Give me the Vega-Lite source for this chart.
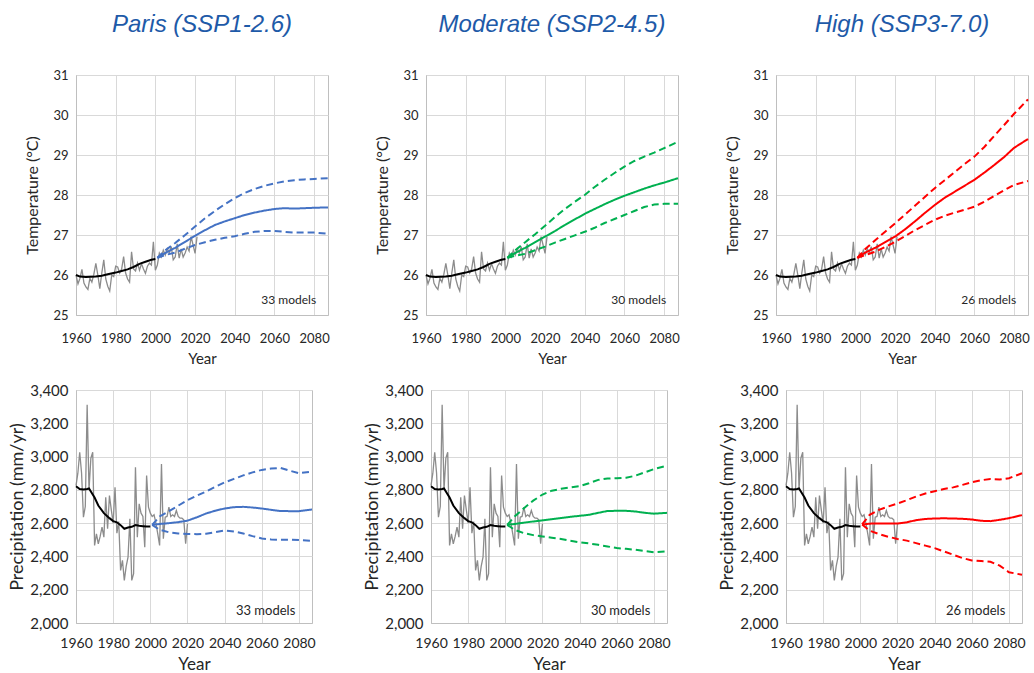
{
"$schema": "https://vega.github.io/schema/vega-lite/v6.json",
"background": "white",
"padding": {"left": 8, "top": 12, "right": 0, "bottom": 0},
"datasets": {
"obs": [
{"year":1960,"t":26.00,"p":2826},{"year":1961,"t":25.78,"p":2900},{"year":1962,"t":25.92,"p":3026},{"year":1963,"t":26.14,"p":2900},{"year":1964,"t":25.80,"p":2636},{"year":1965,"t":25.70,"p":2700},{"year":1966,"t":25.64,"p":3312},{"year":1967,"t":25.92,"p":2800},{"year":1968,"t":25.82,"p":2990},{"year":1969,"t":26.02,"p":3026},
{"year":1970,"t":26.29,"p":2466},{"year":1971,"t":26.00,"p":2536},{"year":1972,"t":25.66,"p":2476},{"year":1973,"t":26.05,"p":2520},{"year":1974,"t":26.38,"p":2576},{"year":1975,"t":25.90,"p":2516},{"year":1976,"t":25.72,"p":2756},{"year":1977,"t":25.60,"p":2566},{"year":1978,"t":26.00,"p":2766},{"year":1979,"t":25.96,"p":2680},
{"year":1980,"t":26.22,"p":2600},{"year":1981,"t":26.20,"p":2816},{"year":1982,"t":26.05,"p":2540},{"year":1983,"t":26.15,"p":2610},{"year":1984,"t":26.46,"p":2316},{"year":1985,"t":26.05,"p":2376},{"year":1986,"t":25.90,"p":2256},{"year":1987,"t":25.82,"p":2340},{"year":1988,"t":26.58,"p":2396},{"year":1989,"t":26.15,"p":2626},
{"year":1990,"t":26.10,"p":2256},{"year":1991,"t":26.30,"p":2296},{"year":1992,"t":26.12,"p":2936},{"year":1993,"t":26.28,"p":2516},{"year":1994,"t":26.15,"p":2716},{"year":1995,"t":26.04,"p":2660},{"year":1996,"t":26.22,"p":2640},{"year":1997,"t":26.30,"p":2456},{"year":1998,"t":26.25,"p":2886},{"year":1999,"t":26.83,"p":2696},
{"year":2000,"t":26.12,"p":2660},{"year":2001,"t":26.25,"p":2640},{"year":2002,"t":26.55,"p":2650},{"year":2003,"t":26.45,"p":2600},{"year":2004,"t":26.62,"p":2536},{"year":2005,"t":26.50,"p":2466},{"year":2006,"t":26.66,"p":2956},{"year":2007,"t":26.55,"p":2506},{"year":2008,"t":26.71,"p":2636},{"year":2009,"t":26.38,"p":2640},
{"year":2010,"t":26.45,"p":2696},{"year":2011,"t":26.78,"p":2640},{"year":2012,"t":26.42,"p":2650},{"year":2013,"t":26.65,"p":2640},{"year":2014,"t":26.45,"p":2676},{"year":2015,"t":26.55,"p":2640},{"year":2016,"t":26.70,"p":2630},{"year":2017,"t":26.60,"p":2630},{"year":2018,"t":26.96,"p":2620},{"year":2019,"t":26.75,"p":2476},
{"year":2020,"t":26.54,"p":2596},{"year":2021,"t":26.96,"p":null}
],
"tsmooth": [
{"year":1960,"t":26.00},{"year":1962,"t":25.96},{"year":1965,"t":25.95},{"year":1970,"t":25.96},{"year":1973,"t":25.98},{"year":1976,"t":26.02},{"year":1980,"t":26.06},{"year":1983,"t":26.10},{"year":1986,"t":26.14},{"year":1989,"t":26.20},{"year":1992,"t":26.28},{"year":1995,"t":26.33},{"year":1998,"t":26.38},{"year":2000,"t":26.40}
],
"psmooth": [
{"year":1960,"p":2822},{"year":1962,"p":2805},{"year":1964,"p":2802},{"year":1966,"p":2805},{"year":1967,"p":2808},{"year":1968,"p":2790},{"year":1970,"p":2754},{"year":1972,"p":2706},{"year":1975,"p":2660},{"year":1978,"p":2630},{"year":1980,"p":2612},{"year":1982,"p":2605},{"year":1984,"p":2588},{"year":1986,"p":2566},{"year":1988,"p":2574},{"year":1990,"p":2578},{"year":1992,"p":2588},{"year":1994,"p":2584},{"year":1996,"p":2582},{"year":1998,"p":2580},{"year":2000,"p":2580}
],
"proj": [
{"scenario":"Paris","year":2001,"t_mean":26.43,"t_upper":26.43,"t_lower":26.43,"p_mean":2590,"p_upper":2590,"p_lower":2590},
{"scenario":"Paris","year":2005,"t_mean":26.55,"t_upper":26.62,"t_lower":26.50,"p_mean":2595,"p_upper":2640,"p_lower":2560},
{"scenario":"Paris","year":2010,"t_mean":26.68,"t_upper":26.80,"t_lower":26.56,"p_mean":2600,"p_upper":2672,"p_lower":2545},
{"scenario":"Paris","year":2015,"t_mean":26.83,"t_upper":27.00,"t_lower":26.66,"p_mean":2606,"p_upper":2705,"p_lower":2538},
{"scenario":"Paris","year":2020,"t_mean":26.98,"t_upper":27.21,"t_lower":26.75,"p_mean":2615,"p_upper":2738,"p_lower":2535},
{"scenario":"Paris","year":2025,"t_mean":27.12,"t_upper":27.42,"t_lower":26.82,"p_mean":2635,"p_upper":2765,"p_lower":2534},
{"scenario":"Paris","year":2030,"t_mean":27.25,"t_upper":27.60,"t_lower":26.88,"p_mean":2658,"p_upper":2790,"p_lower":2536},
{"scenario":"Paris","year":2035,"t_mean":27.34,"t_upper":27.77,"t_lower":26.93,"p_mean":2675,"p_upper":2818,"p_lower":2546},
{"scenario":"Paris","year":2040,"t_mean":27.42,"t_upper":27.92,"t_lower":26.97,"p_mean":2688,"p_upper":2845,"p_lower":2556},
{"scenario":"Paris","year":2045,"t_mean":27.50,"t_upper":28.05,"t_lower":27.03,"p_mean":2696,"p_upper":2866,"p_lower":2550},
{"scenario":"Paris","year":2050,"t_mean":27.56,"t_upper":28.15,"t_lower":27.08,"p_mean":2698,"p_upper":2887,"p_lower":2538},
{"scenario":"Paris","year":2055,"t_mean":27.61,"t_upper":28.23,"t_lower":27.10,"p_mean":2694,"p_upper":2905,"p_lower":2522},
{"scenario":"Paris","year":2060,"t_mean":27.65,"t_upper":28.29,"t_lower":27.10,"p_mean":2688,"p_upper":2920,"p_lower":2508},
{"scenario":"Paris","year":2065,"t_mean":27.67,"t_upper":28.34,"t_lower":27.08,"p_mean":2680,"p_upper":2928,"p_lower":2502},
{"scenario":"Paris","year":2070,"t_mean":27.66,"t_upper":28.37,"t_lower":27.06,"p_mean":2673,"p_upper":2932,"p_lower":2500},
{"scenario":"Paris","year":2075,"t_mean":27.67,"t_upper":28.39,"t_lower":27.06,"p_mean":2672,"p_upper":2915,"p_lower":2500},
{"scenario":"Paris","year":2080,"t_mean":27.68,"t_upper":28.40,"t_lower":27.06,"p_mean":2672,"p_upper":2900,"p_lower":2498},
{"scenario":"Paris","year":2087,"t_mean":27.69,"t_upper":28.42,"t_lower":27.03,"p_mean":2682,"p_upper":2910,"p_lower":2494},
{"scenario":"Moderate","year":2001,"t_mean":26.43,"t_upper":26.43,"t_lower":26.43,"p_mean":2590,"p_upper":2590,"p_lower":2590},
{"scenario":"Moderate","year":2005,"t_mean":26.55,"t_upper":26.62,"t_lower":26.48,"p_mean":2595,"p_upper":2640,"p_lower":2560},
{"scenario":"Moderate","year":2010,"t_mean":26.68,"t_upper":26.82,"t_lower":26.53,"p_mean":2603,"p_upper":2690,"p_lower":2540},
{"scenario":"Moderate","year":2015,"t_mean":26.82,"t_upper":27.02,"t_lower":26.62,"p_mean":2610,"p_upper":2735,"p_lower":2528},
{"scenario":"Moderate","year":2020,"t_mean":26.96,"t_upper":27.23,"t_lower":26.71,"p_mean":2617,"p_upper":2772,"p_lower":2520},
{"scenario":"Moderate","year":2025,"t_mean":27.10,"t_upper":27.45,"t_lower":26.81,"p_mean":2624,"p_upper":2795,"p_lower":2512},
{"scenario":"Moderate","year":2030,"t_mean":27.25,"t_upper":27.65,"t_lower":26.90,"p_mean":2631,"p_upper":2806,"p_lower":2505},
{"scenario":"Moderate","year":2035,"t_mean":27.39,"t_upper":27.83,"t_lower":26.99,"p_mean":2638,"p_upper":2815,"p_lower":2494},
{"scenario":"Moderate","year":2040,"t_mean":27.53,"t_upper":28.00,"t_lower":27.08,"p_mean":2644,"p_upper":2822,"p_lower":2485},
{"scenario":"Moderate","year":2045,"t_mean":27.65,"t_upper":28.20,"t_lower":27.18,"p_mean":2650,"p_upper":2840,"p_lower":2478},
{"scenario":"Moderate","year":2050,"t_mean":27.77,"t_upper":28.38,"t_lower":27.30,"p_mean":2662,"p_upper":2860,"p_lower":2470},
{"scenario":"Moderate","year":2055,"t_mean":27.88,"t_upper":28.55,"t_lower":27.40,"p_mean":2673,"p_upper":2868,"p_lower":2460},
{"scenario":"Moderate","year":2060,"t_mean":27.98,"t_upper":28.71,"t_lower":27.50,"p_mean":2674,"p_upper":2870,"p_lower":2450},
{"scenario":"Moderate","year":2065,"t_mean":28.07,"t_upper":28.85,"t_lower":27.60,"p_mean":2674,"p_upper":2873,"p_lower":2446},
{"scenario":"Moderate","year":2070,"t_mean":28.16,"t_upper":28.96,"t_lower":27.70,"p_mean":2670,"p_upper":2885,"p_lower":2440},
{"scenario":"Moderate","year":2075,"t_mean":28.24,"t_upper":29.06,"t_lower":27.76,"p_mean":2662,"p_upper":2905,"p_lower":2432},
{"scenario":"Moderate","year":2080,"t_mean":28.31,"t_upper":29.17,"t_lower":27.78,"p_mean":2657,"p_upper":2925,"p_lower":2425},
{"scenario":"Moderate","year":2087,"t_mean":28.42,"t_upper":29.33,"t_lower":27.78,"p_mean":2662,"p_upper":2945,"p_lower":2430},
{"scenario":"High","year":2001,"t_mean":26.43,"t_upper":26.43,"t_lower":26.43,"p_mean":2592,"p_upper":2592,"p_lower":2592},
{"scenario":"High","year":2005,"t_mean":26.56,"t_upper":26.65,"t_lower":26.50,"p_mean":2597,"p_upper":2650,"p_lower":2555},
{"scenario":"High","year":2010,"t_mean":26.68,"t_upper":26.87,"t_lower":26.58,"p_mean":2598,"p_upper":2680,"p_lower":2535},
{"scenario":"High","year":2015,"t_mean":26.82,"t_upper":27.08,"t_lower":26.70,"p_mean":2598,"p_upper":2700,"p_lower":2518},
{"scenario":"High","year":2020,"t_mean":26.96,"t_upper":27.29,"t_lower":26.83,"p_mean":2598,"p_upper":2718,"p_lower":2505},
{"scenario":"High","year":2025,"t_mean":27.14,"t_upper":27.51,"t_lower":26.97,"p_mean":2605,"p_upper":2738,"p_lower":2495},
{"scenario":"High","year":2030,"t_mean":27.34,"t_upper":27.73,"t_lower":27.12,"p_mean":2618,"p_upper":2760,"p_lower":2480},
{"scenario":"High","year":2035,"t_mean":27.55,"t_upper":27.95,"t_lower":27.25,"p_mean":2625,"p_upper":2778,"p_lower":2465},
{"scenario":"High","year":2040,"t_mean":27.75,"t_upper":28.17,"t_lower":27.38,"p_mean":2628,"p_upper":2792,"p_lower":2450},
{"scenario":"High","year":2045,"t_mean":27.93,"t_upper":28.37,"t_lower":27.48,"p_mean":2629,"p_upper":2805,"p_lower":2430},
{"scenario":"High","year":2050,"t_mean":28.08,"t_upper":28.57,"t_lower":27.56,"p_mean":2628,"p_upper":2815,"p_lower":2410},
{"scenario":"High","year":2055,"t_mean":28.23,"t_upper":28.77,"t_lower":27.63,"p_mean":2626,"p_upper":2830,"p_lower":2390},
{"scenario":"High","year":2060,"t_mean":28.38,"t_upper":28.96,"t_lower":27.71,"p_mean":2622,"p_upper":2846,"p_lower":2376},
{"scenario":"High","year":2065,"t_mean":28.56,"t_upper":29.20,"t_lower":27.83,"p_mean":2614,"p_upper":2858,"p_lower":2372},
{"scenario":"High","year":2070,"t_mean":28.75,"t_upper":29.48,"t_lower":27.98,"p_mean":2612,"p_upper":2865,"p_lower":2368},
{"scenario":"High","year":2075,"t_mean":28.95,"t_upper":29.75,"t_lower":28.12,"p_mean":2620,"p_upper":2862,"p_lower":2345},
{"scenario":"High","year":2080,"t_mean":29.18,"t_upper":30.03,"t_lower":28.25,"p_mean":2630,"p_upper":2870,"p_lower":2305},
{"scenario":"High","year":2087,"t_mean":29.40,"t_upper":30.39,"t_lower":28.35,"p_mean":2648,"p_upper":2900,"p_lower":2290}
],
"models": [
{"scenario":"Paris","label":"33 models"},{"scenario":"Moderate","label":"30 models"},{"scenario":"High","label":"26 models"}
]
},
"vconcat": [
{"hconcat": [
{"width":252,"height":240,"title":{"text":"Paris (SSP1-2.6)"},
"layer":[
{"data":{"name":"obs"},"mark":{"type":"line","color":"#8c8c8c","strokeWidth":1.3},"encoding":{"x":{"field":"year","type":"quantitative","scale":{"domain":[1960,2087],"nice":false,"zero":false},"axis":{"values":[1960,1980,2000,2020,2040,2060,2080],"format":"d","title":"Year","labelOverlap":false,"labelFlush":false,"labelFontSize":13,"titleFontSize":15,"labelPadding":17,"titlePadding":6}},"y":{"field":"t","type":"quantitative","scale":{"domain":[25,31],"nice":false,"zero":false},"axis":{"values":[25,26,27,28,29,30,31],"format":"d","title":"Temperature (°C)","labelOverlap":false,"labelFlush":false,"labelFontSize":13,"titleFontSize":16,"labelPadding":8,"titlePadding":12}}}},
{"data":{"name":"tsmooth"},"mark":{"type":"line","color":"#000000","strokeWidth":2},"encoding":{"x":{"field":"year","type":"quantitative","scale":{"domain":[1960,2087],"nice":false,"zero":false},"axis":{"values":[1960,1980,2000,2020,2040,2060,2080],"format":"d","title":"Year","labelOverlap":false,"labelFlush":false,"labelFontSize":13,"titleFontSize":15,"labelPadding":17,"titlePadding":6}},"y":{"field":"t","type":"quantitative","scale":{"domain":[25,31],"nice":false,"zero":false},"axis":{"values":[25,26,27,28,29,30,31],"format":"d","title":"Temperature (°C)","labelOverlap":false,"labelFlush":false,"labelFontSize":13,"titleFontSize":16,"labelPadding":8,"titlePadding":12}}}},
{"data":{"name":"proj"},"transform":[{"filter":"datum.scenario === 'Paris'"},{"fold":["t_mean","t_upper","t_lower"],"as":["band","value"]}],"mark":{"type":"line","color":"#4472C4","strokeWidth":2},"encoding":{"x":{"field":"year","type":"quantitative","scale":{"domain":[1960,2087],"nice":false,"zero":false},"axis":{"values":[1960,1980,2000,2020,2040,2060,2080],"format":"d","title":"Year","labelOverlap":false,"labelFlush":false,"labelFontSize":13,"titleFontSize":15,"labelPadding":17,"titlePadding":6}},"y":{"field":"value","type":"quantitative","scale":{"domain":[25,31],"nice":false,"zero":false},"axis":{"values":[25,26,27,28,29,30,31],"format":"d","title":"Temperature (°C)","labelOverlap":false,"labelFlush":false,"labelFontSize":13,"titleFontSize":16,"labelPadding":8,"titlePadding":12}},"strokeDash":{"field":"band","type":"nominal","scale":{"domain":["t_mean","t_upper","t_lower"],"range":[[1,0],[7,4],[7,4]]},"legend":null}}},
{"data":{"name":"models"},"transform":[{"filter":"datum.scenario === 'Paris'"}],"mark":{"type":"text","align":"right","baseline":"middle","font":"Lato","fontSize":12,"color":"#262626"},"encoding":{"x":{"datum":2081,"type":"quantitative","scale":{"domain":[1960,2087],"nice":false,"zero":false},"axis":{"values":[1960,1980,2000,2020,2040,2060,2080],"format":"d","title":"Year","labelOverlap":false,"labelFlush":false,"labelFontSize":13,"titleFontSize":15,"labelPadding":17,"titlePadding":6}},"y":{"datum":25.38,"type":"quantitative","scale":{"domain":[25,31],"nice":false,"zero":false},"axis":{"values":[25,26,27,28,29,30,31],"format":"d","title":"Temperature (°C)","labelOverlap":false,"labelFlush":false,"labelFontSize":13,"titleFontSize":16,"labelPadding":8,"titlePadding":12}},"text":{"field":"label"}}}
]},
{"width":252,"height":240,"title":{"text":"Moderate (SSP2-4.5)"},
"layer":[
{"data":{"name":"obs"},"mark":{"type":"line","color":"#8c8c8c","strokeWidth":1.3},"encoding":{"x":{"field":"year","type":"quantitative","scale":{"domain":[1960,2087],"nice":false,"zero":false},"axis":{"values":[1960,1980,2000,2020,2040,2060,2080],"format":"d","title":"Year","labelOverlap":false,"labelFlush":false,"labelFontSize":13,"titleFontSize":15,"labelPadding":17,"titlePadding":6}},"y":{"field":"t","type":"quantitative","scale":{"domain":[25,31],"nice":false,"zero":false},"axis":{"values":[25,26,27,28,29,30,31],"format":"d","title":"Temperature (°C)","labelOverlap":false,"labelFlush":false,"labelFontSize":13,"titleFontSize":16,"labelPadding":8,"titlePadding":12}}}},
{"data":{"name":"tsmooth"},"mark":{"type":"line","color":"#000000","strokeWidth":2},"encoding":{"x":{"field":"year","type":"quantitative","scale":{"domain":[1960,2087],"nice":false,"zero":false},"axis":{"values":[1960,1980,2000,2020,2040,2060,2080],"format":"d","title":"Year","labelOverlap":false,"labelFlush":false,"labelFontSize":13,"titleFontSize":15,"labelPadding":17,"titlePadding":6}},"y":{"field":"t","type":"quantitative","scale":{"domain":[25,31],"nice":false,"zero":false},"axis":{"values":[25,26,27,28,29,30,31],"format":"d","title":"Temperature (°C)","labelOverlap":false,"labelFlush":false,"labelFontSize":13,"titleFontSize":16,"labelPadding":8,"titlePadding":12}}}},
{"data":{"name":"proj"},"transform":[{"filter":"datum.scenario === 'Moderate'"},{"fold":["t_mean","t_upper","t_lower"],"as":["band","value"]}],"mark":{"type":"line","color":"#00B050","strokeWidth":2},"encoding":{"x":{"field":"year","type":"quantitative","scale":{"domain":[1960,2087],"nice":false,"zero":false},"axis":{"values":[1960,1980,2000,2020,2040,2060,2080],"format":"d","title":"Year","labelOverlap":false,"labelFlush":false,"labelFontSize":13,"titleFontSize":15,"labelPadding":17,"titlePadding":6}},"y":{"field":"value","type":"quantitative","scale":{"domain":[25,31],"nice":false,"zero":false},"axis":{"values":[25,26,27,28,29,30,31],"format":"d","title":"Temperature (°C)","labelOverlap":false,"labelFlush":false,"labelFontSize":13,"titleFontSize":16,"labelPadding":8,"titlePadding":12}},"strokeDash":{"field":"band","type":"nominal","scale":{"domain":["t_mean","t_upper","t_lower"],"range":[[1,0],[7,4],[7,4]]},"legend":null}}},
{"data":{"name":"models"},"transform":[{"filter":"datum.scenario === 'Moderate'"}],"mark":{"type":"text","align":"right","baseline":"middle","font":"Lato","fontSize":12,"color":"#262626"},"encoding":{"x":{"datum":2081,"type":"quantitative","scale":{"domain":[1960,2087],"nice":false,"zero":false},"axis":{"values":[1960,1980,2000,2020,2040,2060,2080],"format":"d","title":"Year","labelOverlap":false,"labelFlush":false,"labelFontSize":13,"titleFontSize":15,"labelPadding":17,"titlePadding":6}},"y":{"datum":25.38,"type":"quantitative","scale":{"domain":[25,31],"nice":false,"zero":false},"axis":{"values":[25,26,27,28,29,30,31],"format":"d","title":"Temperature (°C)","labelOverlap":false,"labelFlush":false,"labelFontSize":13,"titleFontSize":16,"labelPadding":8,"titlePadding":12}},"text":{"field":"label"}}}
]},
{"width":252,"height":240,"title":{"text":"High (SSP3-7.0)"},
"layer":[
{"data":{"name":"obs"},"mark":{"type":"line","color":"#8c8c8c","strokeWidth":1.3},"encoding":{"x":{"field":"year","type":"quantitative","scale":{"domain":[1960,2087],"nice":false,"zero":false},"axis":{"values":[1960,1980,2000,2020,2040,2060,2080],"format":"d","title":"Year","labelOverlap":false,"labelFlush":false,"labelFontSize":13,"titleFontSize":15,"labelPadding":17,"titlePadding":6}},"y":{"field":"t","type":"quantitative","scale":{"domain":[25,31],"nice":false,"zero":false},"axis":{"values":[25,26,27,28,29,30,31],"format":"d","title":"Temperature (°C)","labelOverlap":false,"labelFlush":false,"labelFontSize":13,"titleFontSize":16,"labelPadding":8,"titlePadding":12}}}},
{"data":{"name":"tsmooth"},"mark":{"type":"line","color":"#000000","strokeWidth":2},"encoding":{"x":{"field":"year","type":"quantitative","scale":{"domain":[1960,2087],"nice":false,"zero":false},"axis":{"values":[1960,1980,2000,2020,2040,2060,2080],"format":"d","title":"Year","labelOverlap":false,"labelFlush":false,"labelFontSize":13,"titleFontSize":15,"labelPadding":17,"titlePadding":6}},"y":{"field":"t","type":"quantitative","scale":{"domain":[25,31],"nice":false,"zero":false},"axis":{"values":[25,26,27,28,29,30,31],"format":"d","title":"Temperature (°C)","labelOverlap":false,"labelFlush":false,"labelFontSize":13,"titleFontSize":16,"labelPadding":8,"titlePadding":12}}}},
{"data":{"name":"proj"},"transform":[{"filter":"datum.scenario === 'High'"},{"fold":["t_mean","t_upper","t_lower"],"as":["band","value"]}],"mark":{"type":"line","color":"#FF0000","strokeWidth":2},"encoding":{"x":{"field":"year","type":"quantitative","scale":{"domain":[1960,2087],"nice":false,"zero":false},"axis":{"values":[1960,1980,2000,2020,2040,2060,2080],"format":"d","title":"Year","labelOverlap":false,"labelFlush":false,"labelFontSize":13,"titleFontSize":15,"labelPadding":17,"titlePadding":6}},"y":{"field":"value","type":"quantitative","scale":{"domain":[25,31],"nice":false,"zero":false},"axis":{"values":[25,26,27,28,29,30,31],"format":"d","title":"Temperature (°C)","labelOverlap":false,"labelFlush":false,"labelFontSize":13,"titleFontSize":16,"labelPadding":8,"titlePadding":12}},"strokeDash":{"field":"band","type":"nominal","scale":{"domain":["t_mean","t_upper","t_lower"],"range":[[1,0],[7,4],[7,4]]},"legend":null}}},
{"data":{"name":"models"},"transform":[{"filter":"datum.scenario === 'High'"}],"mark":{"type":"text","align":"right","baseline":"middle","font":"Lato","fontSize":12,"color":"#262626"},"encoding":{"x":{"datum":2081,"type":"quantitative","scale":{"domain":[1960,2087],"nice":false,"zero":false},"axis":{"values":[1960,1980,2000,2020,2040,2060,2080],"format":"d","title":"Year","labelOverlap":false,"labelFlush":false,"labelFontSize":13,"titleFontSize":15,"labelPadding":17,"titlePadding":6}},"y":{"datum":25.38,"type":"quantitative","scale":{"domain":[25,31],"nice":false,"zero":false},"axis":{"values":[25,26,27,28,29,30,31],"format":"d","title":"Temperature (°C)","labelOverlap":false,"labelFlush":false,"labelFontSize":13,"titleFontSize":16,"labelPadding":8,"titlePadding":12}},"text":{"field":"label"}}}
]}
], "spacing": 98, "bounds": "flush"},
{"hconcat": [
{"width":236,"height":233,
"layer":[
{"data":{"name":"obs"},"mark":{"type":"line","color":"#8c8c8c","strokeWidth":1.3},"encoding":{"x":{"field":"year","type":"quantitative","scale":{"domain":[1960,2087],"nice":false,"zero":false},"axis":{"values":[1960,1980,2000,2020,2040,2060,2080],"format":"d","title":"Year","labelOverlap":false,"labelFlush":false,"labelFontSize":14,"titleFontSize":17,"labelPadding":13,"titlePadding":6}},"y":{"field":"p","type":"quantitative","scale":{"domain":[2000,3400],"nice":false,"zero":false},"axis":{"values":[2000,2200,2400,2600,2800,3000,3200,3400],"format":",.0f","title":"Precipitation (mm/yr)","labelOverlap":false,"labelFlush":false,"labelFontSize":15,"titleFontSize":18,"labelPadding":8,"titlePadding":3}}}},
{"data":{"name":"psmooth"},"mark":{"type":"line","color":"#000000","strokeWidth":2},"encoding":{"x":{"field":"year","type":"quantitative","scale":{"domain":[1960,2087],"nice":false,"zero":false},"axis":{"values":[1960,1980,2000,2020,2040,2060,2080],"format":"d","title":"Year","labelOverlap":false,"labelFlush":false,"labelFontSize":14,"titleFontSize":17,"labelPadding":13,"titlePadding":6}},"y":{"field":"p","type":"quantitative","scale":{"domain":[2000,3400],"nice":false,"zero":false},"axis":{"values":[2000,2200,2400,2600,2800,3000,3200,3400],"format":",.0f","title":"Precipitation (mm/yr)","labelOverlap":false,"labelFlush":false,"labelFontSize":15,"titleFontSize":18,"labelPadding":8,"titlePadding":3}}}},
{"data":{"name":"proj"},"transform":[{"filter":"datum.scenario === 'Paris'"},{"fold":["p_mean","p_upper","p_lower"],"as":["band","value"]}],"mark":{"type":"line","color":"#4472C4","strokeWidth":2},"encoding":{"x":{"field":"year","type":"quantitative","scale":{"domain":[1960,2087],"nice":false,"zero":false},"axis":{"values":[1960,1980,2000,2020,2040,2060,2080],"format":"d","title":"Year","labelOverlap":false,"labelFlush":false,"labelFontSize":14,"titleFontSize":17,"labelPadding":13,"titlePadding":6}},"y":{"field":"value","type":"quantitative","scale":{"domain":[2000,3400],"nice":false,"zero":false},"axis":{"values":[2000,2200,2400,2600,2800,3000,3200,3400],"format":",.0f","title":"Precipitation (mm/yr)","labelOverlap":false,"labelFlush":false,"labelFontSize":15,"titleFontSize":18,"labelPadding":8,"titlePadding":3}},"strokeDash":{"field":"band","type":"nominal","scale":{"domain":["p_mean","p_upper","p_lower"],"range":[[1,0],[7,4],[7,4]]},"legend":null}}},
{"data":{"name":"models"},"transform":[{"filter":"datum.scenario === 'Paris'"}],"mark":{"type":"text","align":"right","baseline":"middle","font":"Lato","fontSize":13,"color":"#262626"},"encoding":{"x":{"datum":2078,"type":"quantitative","scale":{"domain":[1960,2087],"nice":false,"zero":false},"axis":{"values":[1960,1980,2000,2020,2040,2060,2080],"format":"d","title":"Year","labelOverlap":false,"labelFlush":false,"labelFontSize":14,"titleFontSize":17,"labelPadding":13,"titlePadding":6}},"y":{"datum":2072,"type":"quantitative","scale":{"domain":[2000,3400],"nice":false,"zero":false},"axis":{"values":[2000,2200,2400,2600,2800,3000,3200,3400],"format":",.0f","title":"Precipitation (mm/yr)","labelOverlap":false,"labelFlush":false,"labelFontSize":15,"titleFontSize":18,"labelPadding":8,"titlePadding":3}},"text":{"field":"label"}}}
]},
{"width":236,"height":233,
"layer":[
{"data":{"name":"obs"},"mark":{"type":"line","color":"#8c8c8c","strokeWidth":1.3},"encoding":{"x":{"field":"year","type":"quantitative","scale":{"domain":[1960,2087],"nice":false,"zero":false},"axis":{"values":[1960,1980,2000,2020,2040,2060,2080],"format":"d","title":"Year","labelOverlap":false,"labelFlush":false,"labelFontSize":14,"titleFontSize":17,"labelPadding":13,"titlePadding":6}},"y":{"field":"p","type":"quantitative","scale":{"domain":[2000,3400],"nice":false,"zero":false},"axis":{"values":[2000,2200,2400,2600,2800,3000,3200,3400],"format":",.0f","title":"Precipitation (mm/yr)","labelOverlap":false,"labelFlush":false,"labelFontSize":15,"titleFontSize":18,"labelPadding":8,"titlePadding":3}}}},
{"data":{"name":"psmooth"},"mark":{"type":"line","color":"#000000","strokeWidth":2},"encoding":{"x":{"field":"year","type":"quantitative","scale":{"domain":[1960,2087],"nice":false,"zero":false},"axis":{"values":[1960,1980,2000,2020,2040,2060,2080],"format":"d","title":"Year","labelOverlap":false,"labelFlush":false,"labelFontSize":14,"titleFontSize":17,"labelPadding":13,"titlePadding":6}},"y":{"field":"p","type":"quantitative","scale":{"domain":[2000,3400],"nice":false,"zero":false},"axis":{"values":[2000,2200,2400,2600,2800,3000,3200,3400],"format":",.0f","title":"Precipitation (mm/yr)","labelOverlap":false,"labelFlush":false,"labelFontSize":15,"titleFontSize":18,"labelPadding":8,"titlePadding":3}}}},
{"data":{"name":"proj"},"transform":[{"filter":"datum.scenario === 'Moderate'"},{"fold":["p_mean","p_upper","p_lower"],"as":["band","value"]}],"mark":{"type":"line","color":"#00B050","strokeWidth":2},"encoding":{"x":{"field":"year","type":"quantitative","scale":{"domain":[1960,2087],"nice":false,"zero":false},"axis":{"values":[1960,1980,2000,2020,2040,2060,2080],"format":"d","title":"Year","labelOverlap":false,"labelFlush":false,"labelFontSize":14,"titleFontSize":17,"labelPadding":13,"titlePadding":6}},"y":{"field":"value","type":"quantitative","scale":{"domain":[2000,3400],"nice":false,"zero":false},"axis":{"values":[2000,2200,2400,2600,2800,3000,3200,3400],"format":",.0f","title":"Precipitation (mm/yr)","labelOverlap":false,"labelFlush":false,"labelFontSize":15,"titleFontSize":18,"labelPadding":8,"titlePadding":3}},"strokeDash":{"field":"band","type":"nominal","scale":{"domain":["p_mean","p_upper","p_lower"],"range":[[1,0],[7,4],[7,4]]},"legend":null}}},
{"data":{"name":"models"},"transform":[{"filter":"datum.scenario === 'Moderate'"}],"mark":{"type":"text","align":"right","baseline":"middle","font":"Lato","fontSize":13,"color":"#262626"},"encoding":{"x":{"datum":2078,"type":"quantitative","scale":{"domain":[1960,2087],"nice":false,"zero":false},"axis":{"values":[1960,1980,2000,2020,2040,2060,2080],"format":"d","title":"Year","labelOverlap":false,"labelFlush":false,"labelFontSize":14,"titleFontSize":17,"labelPadding":13,"titlePadding":6}},"y":{"datum":2072,"type":"quantitative","scale":{"domain":[2000,3400],"nice":false,"zero":false},"axis":{"values":[2000,2200,2400,2600,2800,3000,3200,3400],"format":",.0f","title":"Precipitation (mm/yr)","labelOverlap":false,"labelFlush":false,"labelFontSize":15,"titleFontSize":18,"labelPadding":8,"titlePadding":3}},"text":{"field":"label"}}}
]},
{"width":236,"height":233,
"layer":[
{"data":{"name":"obs"},"mark":{"type":"line","color":"#8c8c8c","strokeWidth":1.3},"encoding":{"x":{"field":"year","type":"quantitative","scale":{"domain":[1960,2087],"nice":false,"zero":false},"axis":{"values":[1960,1980,2000,2020,2040,2060,2080],"format":"d","title":"Year","labelOverlap":false,"labelFlush":false,"labelFontSize":14,"titleFontSize":17,"labelPadding":13,"titlePadding":6}},"y":{"field":"p","type":"quantitative","scale":{"domain":[2000,3400],"nice":false,"zero":false},"axis":{"values":[2000,2200,2400,2600,2800,3000,3200,3400],"format":",.0f","title":"Precipitation (mm/yr)","labelOverlap":false,"labelFlush":false,"labelFontSize":15,"titleFontSize":18,"labelPadding":8,"titlePadding":3}}}},
{"data":{"name":"psmooth"},"mark":{"type":"line","color":"#000000","strokeWidth":2},"encoding":{"x":{"field":"year","type":"quantitative","scale":{"domain":[1960,2087],"nice":false,"zero":false},"axis":{"values":[1960,1980,2000,2020,2040,2060,2080],"format":"d","title":"Year","labelOverlap":false,"labelFlush":false,"labelFontSize":14,"titleFontSize":17,"labelPadding":13,"titlePadding":6}},"y":{"field":"p","type":"quantitative","scale":{"domain":[2000,3400],"nice":false,"zero":false},"axis":{"values":[2000,2200,2400,2600,2800,3000,3200,3400],"format":",.0f","title":"Precipitation (mm/yr)","labelOverlap":false,"labelFlush":false,"labelFontSize":15,"titleFontSize":18,"labelPadding":8,"titlePadding":3}}}},
{"data":{"name":"proj"},"transform":[{"filter":"datum.scenario === 'High'"},{"fold":["p_mean","p_upper","p_lower"],"as":["band","value"]}],"mark":{"type":"line","color":"#FF0000","strokeWidth":2},"encoding":{"x":{"field":"year","type":"quantitative","scale":{"domain":[1960,2087],"nice":false,"zero":false},"axis":{"values":[1960,1980,2000,2020,2040,2060,2080],"format":"d","title":"Year","labelOverlap":false,"labelFlush":false,"labelFontSize":14,"titleFontSize":17,"labelPadding":13,"titlePadding":6}},"y":{"field":"value","type":"quantitative","scale":{"domain":[2000,3400],"nice":false,"zero":false},"axis":{"values":[2000,2200,2400,2600,2800,3000,3200,3400],"format":",.0f","title":"Precipitation (mm/yr)","labelOverlap":false,"labelFlush":false,"labelFontSize":15,"titleFontSize":18,"labelPadding":8,"titlePadding":3}},"strokeDash":{"field":"band","type":"nominal","scale":{"domain":["p_mean","p_upper","p_lower"],"range":[[1,0],[7,4],[7,4]]},"legend":null}}},
{"data":{"name":"models"},"transform":[{"filter":"datum.scenario === 'High'"}],"mark":{"type":"text","align":"right","baseline":"middle","font":"Lato","fontSize":13,"color":"#262626"},"encoding":{"x":{"datum":2078,"type":"quantitative","scale":{"domain":[1960,2087],"nice":false,"zero":false},"axis":{"values":[1960,1980,2000,2020,2040,2060,2080],"format":"d","title":"Year","labelOverlap":false,"labelFlush":false,"labelFontSize":14,"titleFontSize":17,"labelPadding":13,"titlePadding":6}},"y":{"datum":2072,"type":"quantitative","scale":{"domain":[2000,3400],"nice":false,"zero":false},"axis":{"values":[2000,2200,2400,2600,2800,3000,3200,3400],"format":",.0f","title":"Precipitation (mm/yr)","labelOverlap":false,"labelFlush":false,"labelFontSize":15,"titleFontSize":18,"labelPadding":8,"titlePadding":3}},"text":{"field":"label"}}}
]}
], "spacing": 119, "bounds": "flush"}
],
"spacing": 15,
"config": {
"font": "Lato",
"view": {"stroke": "#bfbfbf", "strokeWidth": 1},
"axis": {"labelFont": "Lato", "labelColor": "#262626", "titleFont": "Lato", "titleFontWeight": "normal", "titleColor": "#262626", "gridColor": "#d9d9d9", "domainColor": "#bfbfbf", "ticks": false, "labelFlush": false, "labelOverlap": false},
"title": {"font": "Liberation Sans", "fontStyle": "italic", "fontWeight": "normal", "fontSize": 24, "color": "#1E5AA8", "frame": "group", "anchor": "middle", "offset": 32}
}
}
